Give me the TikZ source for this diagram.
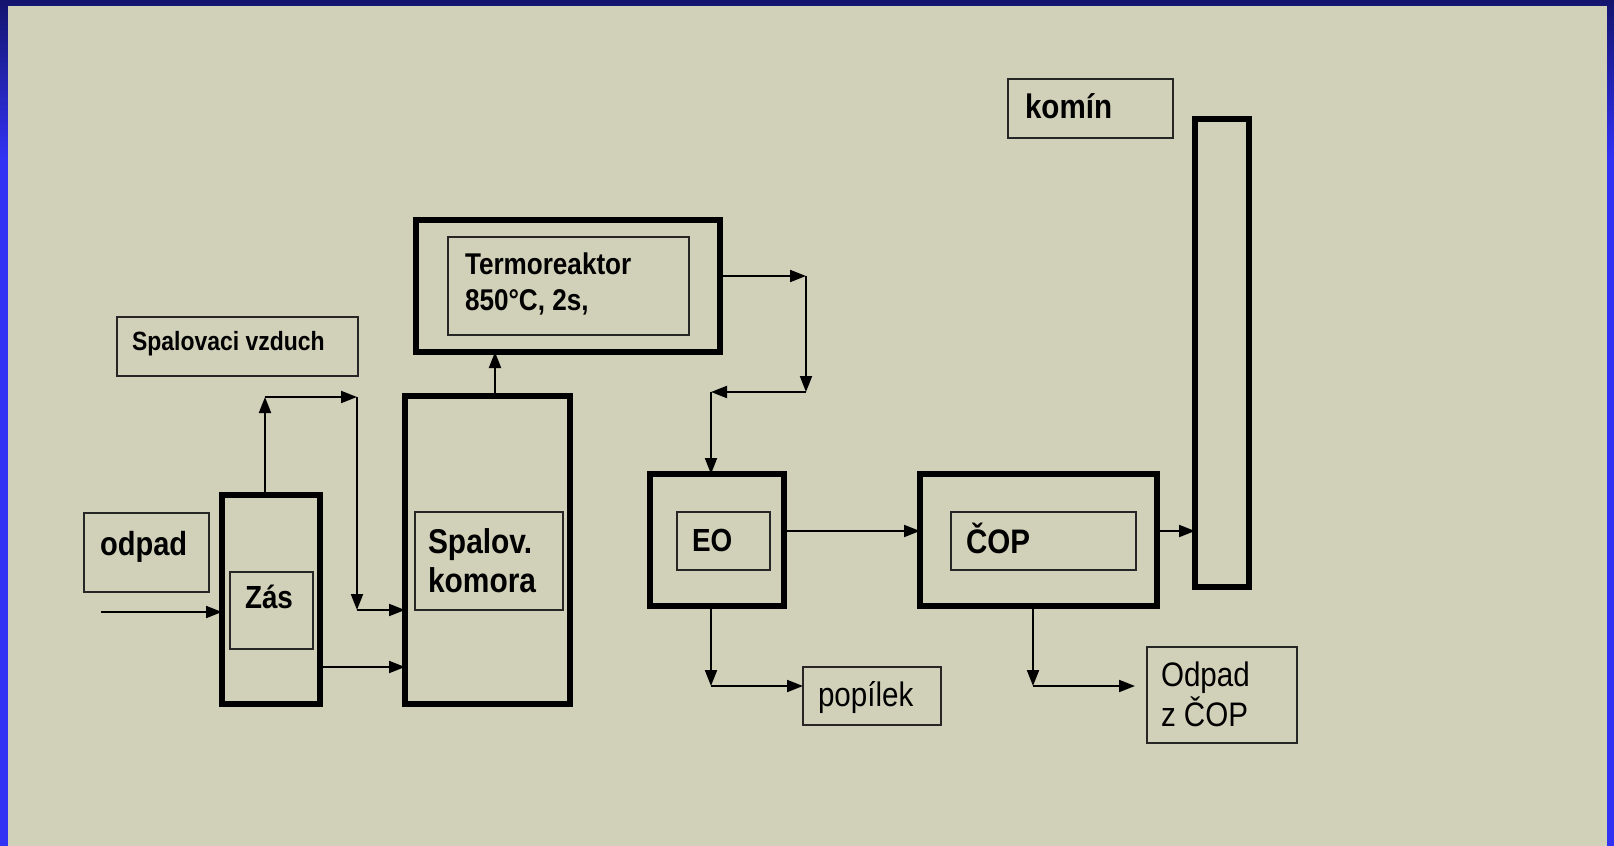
\documentclass[tikz,border=0pt]{standalone}
\usepackage{fontspec}
\setmainfont{Liberation Sans}
\newfontfamily\cnd[FakeStretch=0.87]{Liberation Sans}
\usetikzlibrary{arrows.meta}
\definecolor{paper}{RGB}{209,209,186}
\definecolor{navy}{RGB}{20,20,110}
\definecolor{brightblue}{RGB}{50,50,245}
\tikzset{
  thickbox/.style={draw=black, line width=3pt, inner sep=0pt, outer sep=0pt},
  thinbox/.style={draw=black!85, line width=1pt, inner sep=0pt, outer sep=0pt},
  lbl/.style={anchor=base west, inner sep=0pt, outer sep=0pt, text=black},
  conn/.style={line width=1pt, draw=black, -{Triangle[length=8pt,width=6pt]}},
  plain/.style={line width=1pt, draw=black}
}
\begin{document}
\begin{tikzpicture}[x=0.5pt,y=-0.5pt]
\useasboundingbox (0,0) rectangle (1614,846);
\fill[brightblue] (0,0) rectangle (1614,846);
\shade[top color=navy, bottom color=brightblue] (0,0) rectangle (1614,160);
\fill[paper] (8,6) rectangle (1607,846);

% boxes
\node[thinbox, minimum width=120.5pt, minimum height=29.5pt] (air) at (237.5,346.5) {};
\node[thinbox, minimum width=62.5pt, minimum height=39.5pt] (odpad) at (146.5,552.5) {};
\node[thickbox, minimum width=49pt, minimum height=104.5pt] (zas) at (271,599.5) {};
\node[thinbox, minimum width=41.5pt, minimum height=38.5pt] (zasin) at (271.5,610.5) {};
\node[thickbox, minimum width=82.5pt, minimum height=154pt] (komora) at (487.5,550) {};
\node[thinbox, minimum width=74pt, minimum height=49pt] (komorain) at (489,561) {};
\node[thickbox, minimum width=152pt, minimum height=66pt] (termo) at (568,286) {};
\node[thinbox, minimum width=120.5pt, minimum height=49pt] (termoin) at (568.5,286) {};
\node[thickbox, minimum width=67pt, minimum height=66pt] (eo) at (717,540) {};
\node[thinbox, minimum width=46.5pt, minimum height=29pt] (eoin) at (723.5,541) {};
\node[thickbox, minimum width=118.5pt, minimum height=66pt] (cop) at (1038.5,540) {};
\node[thinbox, minimum width=92.5pt, minimum height=29pt] (copin) at (1043.5,541) {};
\node[thickbox, minimum width=27pt, minimum height=234pt] (komin) at (1222,353) {};
\node[thinbox, minimum width=82.5pt, minimum height=29.5pt] (kominlbl) at (1090.5,108.5) {};
\node[thinbox, minimum width=69pt, minimum height=29pt] (popilek) at (872,696) {};
\node[thinbox, minimum width=75pt, minimum height=48pt] (ocop) at (1222,695) {};

% texts
\node[lbl, font=\cnd\bfseries\fontsize{13.2pt}{15pt}\selectfont] (tair) at (132,350) {Spalovaci vzduch};
\node[lbl, font=\cnd\bfseries\fontsize{16.7pt}{19pt}\selectfont] (todpad) at (100,555) {odpad};
\node[lbl, font=\cnd\bfseries\fontsize{16pt}{19pt}\selectfont] (tzas) at (245,608) {Zás};
\node[lbl, font=\cnd\bfseries\fontsize{17.2pt}{19pt}\selectfont] (tkom1) at (428,553) {Spalov.};
\node[lbl, font=\cnd\bfseries\fontsize{17.2pt}{19pt}\selectfont] (tkom2) at (428,592) {komora};
\node[lbl, font=\cnd\bfseries\fontsize{15pt}{18pt}\selectfont] (tter1) at (465,274) {Termoreaktor};
\node[lbl, font=\cnd\bfseries\fontsize{15pt}{18pt}\selectfont] (tter2) at (465,310) {850°C, 2s,};
\node[lbl, font=\cnd\bfseries\fontsize{16pt}{19pt}\selectfont] (teo) at (692,551) {EO};
\node[lbl, font=\cnd\bfseries\fontsize{17pt}{19pt}\selectfont] (tcop) at (966,553) {ČOP};
\node[lbl, font=\cnd\bfseries\fontsize{17pt}{19pt}\selectfont] (tkomin) at (1025,119) {komín};
\node[lbl, font=\cnd\fontsize{17pt}{19pt}\selectfont] (tpop) at (818,706) {popílek};
\node[lbl, font=\cnd\fontsize{17pt}{19pt}\selectfont] (toc1) at (1161,686) {Odpad};
\node[lbl, font=\cnd\fontsize{17pt}{19pt}\selectfont] (toc2) at (1161,726) {z ČOP};

% helper coordinates
\coordinate (in0) at (101,612);
\coordinate (a1) at (265,397);
\coordinate (a2) at (357,397);
\coordinate (a3) at (357,610);
\coordinate (b1) at (0,667);
\coordinate (k1) at (495,0);
\coordinate (t0) at (0,276);
\coordinate (t1) at (806,276);
\coordinate (t2) at (806,392);
\coordinate (t3) at (711,392);
\coordinate (m1) at (0,531);
\coordinate (e1) at (711,686);
\coordinate (c1) at (1033,686);
\coordinate (c2) at (1135,686);

% connectors
\draw[conn] (in0) -- (in0 -| zas.west);
\draw[conn] (zas.north -| a1) -- (a1);
\draw[conn] (a1) -- (a2);
\draw[conn] (a2) -- (a3);
\draw[conn] (a3) -- (a3 -| komora.west);
\draw[conn] (zas.east |- b1) -- (komora.west |- b1);
\draw[conn] (komora.north -| k1) -- (termo.south -| k1);
\draw[conn] (termo.east |- t0) -- (t1);
\draw[conn] (t1) -- (t2);
\draw[conn] (t2) -- (t3);
\draw[conn] (t3) -- (t3 |- eo.north);
\draw[conn] (eo.east |- m1) -- (cop.west |- m1);
\draw[conn] (cop.east |- m1) -- (komin.west |- m1);
\draw[conn] (eo.south -| e1) -- (e1);
\draw[conn] (e1) -- (e1 -| popilek.west);
\draw[conn] (cop.south -| c1) -- (c1);
\draw[conn] (c1) -- (c2);
\end{tikzpicture}
\end{document}
